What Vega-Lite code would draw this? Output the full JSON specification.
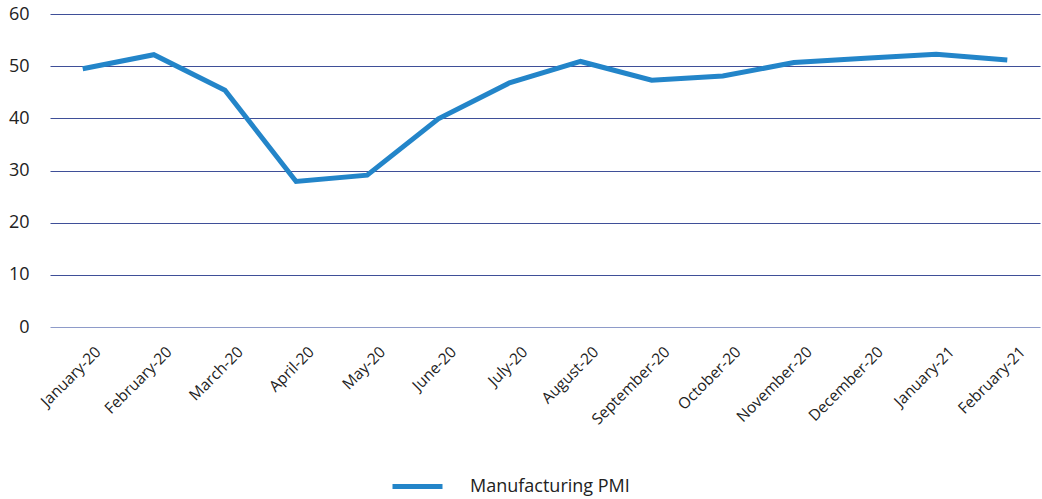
{
  "$schema": "https://vega.github.io/schema/vega-lite/v6.json",
  "width": 990,
  "height": 313,
  "autosize": {"type": "none"},
  "padding": {"left": 50, "top": 14, "right": 2, "bottom": 172},
  "background": "white",
  "config": {"view": {"stroke": null}, "font": "Open Sans"},
  "data": {
    "values": [
      {"month": "January-20", "pmi": 49.5, "series": "Manufacturing PMI"},
      {"month": "February-20", "pmi": 52.2, "series": "Manufacturing PMI"},
      {"month": "March-20", "pmi": 45.4, "series": "Manufacturing PMI"},
      {"month": "April-20", "pmi": 27.9, "series": "Manufacturing PMI"},
      {"month": "May-20", "pmi": 29.1, "series": "Manufacturing PMI"},
      {"month": "June-20", "pmi": 39.9, "series": "Manufacturing PMI"},
      {"month": "July-20", "pmi": 46.8, "series": "Manufacturing PMI"},
      {"month": "August-20", "pmi": 50.9, "series": "Manufacturing PMI"},
      {"month": "September-20", "pmi": 47.3, "series": "Manufacturing PMI"},
      {"month": "October-20", "pmi": 48.1, "series": "Manufacturing PMI"},
      {"month": "November-20", "pmi": 50.7, "series": "Manufacturing PMI"},
      {"month": "December-20", "pmi": 51.5, "series": "Manufacturing PMI"},
      {"month": "January-21", "pmi": 52.3, "series": "Manufacturing PMI"},
      {"month": "February-21", "pmi": 51.2, "series": "Manufacturing PMI"}
    ]
  },
  "mark": {"type": "line", "strokeWidth": 5, "strokeJoin": "miter"},
  "encoding": {
    "x": {
      "field": "month",
      "type": "ordinal",
      "sort": null,
      "scale": {"type": "point", "padding": 0.46},
      "axis": {
        "title": null,
        "labelAngle": -45,
        "labelAlign": "right",
        "labelBaseline": "middle",
        "labelFontSize": 15.5,
        "labelColor": "#222222",
        "labelPadding": 22,
        "labelOffset": 15,
        "ticks": false,
        "domain": false,
        "grid": false
      }
    },
    "y": {
      "field": "pmi",
      "type": "quantitative",
      "scale": {"domain": [0, 60], "nice": false},
      "axis": {
        "title": null,
        "values": [0, 10, 20, 30, 40, 50, 60],
        "labelFontSize": 18,
        "labelColor": "#222222",
        "labelPadding": 21,
        "ticks": false,
        "domain": false,
        "grid": true,
        "gridWidth": 1,
        "gridOpacity": 1,
        "gridColor": {"condition": {"test": "datum.value === 0", "value": "#8e9bc9"}, "value": "#3f4f98"}
      }
    },
    "color": {
      "field": "series",
      "type": "nominal",
      "scale": {"range": ["#2385c9"]},
      "legend": {
        "title": null,
        "orient": "none",
        "legendX": 340,
        "legendY": 445,
        "symbolType": "stroke",
        "symbolSize": 2500,
        "symbolStrokeWidth": 5,
        "labelFontSize": 18,
        "labelBaseline": "middle",
        "labelColor": "#222222",
        "labelOffset": 25
      }
    }
  }
}
